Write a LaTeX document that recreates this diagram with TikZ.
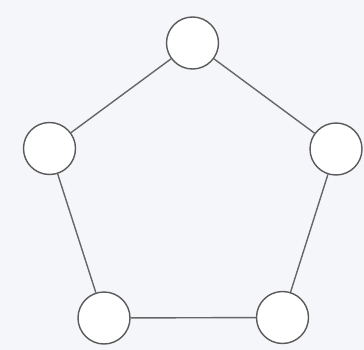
\documentclass[tikz,border=0pt]{standalone}
\definecolor{bgc}{HTML}{F5F6FA}
\definecolor{linec}{HTML}{5A5A5A}
\definecolor{edgec}{HTML}{666666}
\tikzset{
  vtx/.style={circle, draw=linec, fill=white, line width=1.4pt, minimum size=52pt, inner sep=0pt},
  edge/.style={draw=edgec, line width=1.4pt}
}
\begin{document}
\begin{tikzpicture}[x=1pt,y=-1pt]
\fill[bgc] (0,0) rectangle (364,350);
\useasboundingbox (0,0) rectangle (364,350);
\node[vtx] (t) at (192.5,43) {};
\node[vtx] (l) at (49.5,148.5) {};
\node[vtx] (r) at (336,149) {};
\node[vtx] (bl) at (104,318) {};
\node[vtx] (br) at (282.5,317.5) {};
\draw[edge] (t) -- (l);
\draw[edge] (t) -- (r);
\draw[edge] (l) -- (bl);
\draw[edge] (r) -- (br);
\draw[edge] (bl) -- (br);
\end{tikzpicture}
\end{document}
